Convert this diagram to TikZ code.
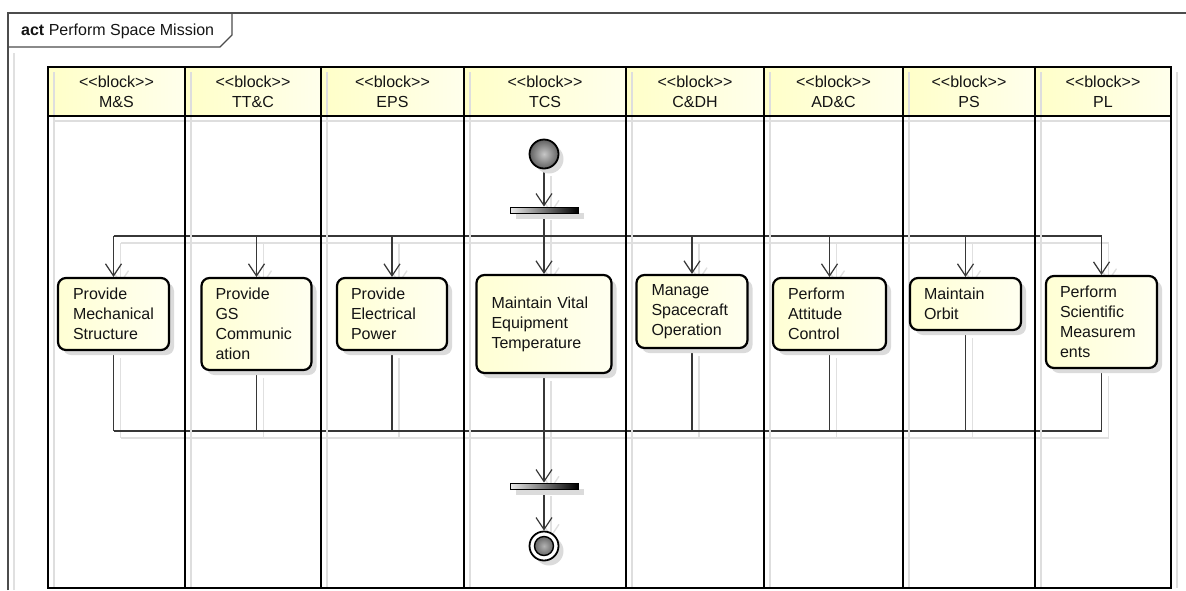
\documentclass[tikz,border=0pt]{standalone}
\usepackage{fontspec}
\newfontfamily\umlfont{Liberation Sans}
\usetikzlibrary{arrows.meta,shadows,calc}
\pgfdeclarelayer{flows}
\pgfsetlayers{flows,main}

\definecolor{hdrA}{RGB}{255,255,200}
\definecolor{hdrB}{RGB}{255,255,236}
\definecolor{actA}{RGB}{255,255,212}
\definecolor{actB}{RGB}{255,255,240}
\definecolor{inkgray}{RGB}{55,55,55}

\tikzset{
  every node/.style={font=\umlfont\fontsize{16}{20}\selectfont, text=black!92},
  lane/.style={line width=2.4pt, draw=black},
  laneshadow/.style={line width=1.6pt, draw=black!13},
  hdr/.style={draw=none, left color=hdrA, right color=hdrB, inner sep=0pt,
              minimum height=49, align=center},
  actbox/.style={draw=black, line width=2.2pt, rounded corners=8pt, align=left,
                 left color=actA, right color=actB, inner ysep=0pt,
                 drop shadow={shadow xshift=5pt, shadow yshift=-5pt, fill=black!14, opacity=1}},
  bar/.style={draw=black, line width=0.8pt, rectangle, inner sep=0pt,
              minimum width=68, minimum height=6, left color=black!8, right color=black,
              drop shadow={shadow xshift=6pt, shadow yshift=-6pt, fill=black!14, opacity=1}},
  initnode/.style={circle, draw=black, line width=1.8pt, inner sep=0pt, minimum size=29,
                   inner color=black!22, outer color=black!62,
                   drop shadow={shadow xshift=5pt, shadow yshift=-5pt, fill=black!14, opacity=1}},
  finalnode/.style={circle, draw=black, line width=1.8pt, inner sep=0pt, minimum size=29,
                    fill=white,
                    drop shadow={shadow xshift=5pt, shadow yshift=-5pt, fill=black!14, opacity=1},
                    path picture={\shadedraw[draw=black, line width=1.4pt,
                       inner color=black!30, outer color=black!75]
                       (path picture bounding box.center) circle (9.5pt);}},
  flow/.style={draw=inkgray, line width=1.2pt},
  flowshadow/.style={draw=black!12, line width=1.4pt},
  frameline/.style={draw=black!70, line width=1.2pt},
}

% every control-flow edge of the activity, drawn with the style given
\newcommand\flowlines[1]{%
  \draw[#1,->] (init) -- (fork);
  \draw[#1,->] (fork.south) -- (fork.south |- a4.north);
  \draw[#1] (spreadL) -- (spreadR);
  \foreach \n in {a1,a2,a3,a5,a6,a7,a8}
    \draw[#1,->] (\n.north |- spreadL) -- (\n.north);
  \foreach \n in {a1,a2,a3,a5,a6,a7,a8}
    \draw[#1] (\n.south) -- (\n.south |- joinL);
  \draw[#1] (joinL) -- (joinR);
  \draw[#1,->] (a4.south) -- (join);
  \draw[#1,->] (join) -- (final);
}

\begin{document}
\begin{tikzpicture}[x=1pt, y=-1pt, >={Straight Barb[length=12pt,width=16pt]}]
\useasboundingbox (0,0) rectangle (1186,590);

% diagram frame and its name tab
\draw[draw=black!12, line width=1.4pt] (14,53) -- (14,590);
\draw[frameline] (8,590) -- (8,13) -- (1186,13);
\draw[frameline] (8,47) -- (220,47) -- (232,35) -- (232,13);
\node[anchor=west, inner sep=0pt] (title) at (21,31) {\textbf{act} Perform Space Mission};

% partition headers
\node[hdr, minimum width=137] (h1) at (116.5,91.5)  {<<block>>\\M\&S};
\node[hdr, minimum width=136] (h2) at (253,91.5)    {<<block>>\\TT\&C};
\node[hdr, minimum width=143] (h3) at (392.5,91.5)  {<<block>>\\EPS};
\node[hdr, minimum width=162] (h4) at (545,91.5)    {<<block>>\\TCS};
\node[hdr, minimum width=138] (h5) at (695,91.5)    {<<block>>\\C\&DH};
\node[hdr, minimum width=139] (h6) at (833.5,91.5)  {<<block>>\\AD\&C};
\node[hdr, minimum width=132] (h7) at (969,91.5)    {<<block>>\\PS};
\node[hdr, minimum width=136] (h8) at (1103,91.5)   {<<block>>\\PL};

% partition shadows
\foreach \x in {48,185,321,464,626,764,903,1035,1171}
  \draw[laneshadow] (\x+6,72) -- (\x+6,588);
\draw[laneshadow] (54,121) -- (1171,121);

% partition lines
\draw[lane] (48,67) rectangle (1171,588);
\draw[lane] (48,116) -- (1171,116);
\foreach \x in {185,321,464,626,764,903,1035}
  \draw[lane] (\x,67) -- (\x,588);

% control nodes
\node[initnode] (init) at (544,154) {};
\node[bar] (fork) at (544,210) {};
\node[bar] (join) at (544,486) {};
\node[finalnode] (final) at (544,546) {};

% actions
\node[actbox, minimum width=111, minimum height=72, inner xsep=15, text width=81]
  (a1) at (113.5,314) {Provide\\Mechanical\\Structure};
\node[actbox, minimum width=110, minimum height=92, inner xsep=14, text width=82]
  (a2) at (256.5,324) {Provide\\GS\\Communic\\ation};
\node[actbox, minimum width=110, minimum height=72, inner xsep=14, text width=82]
  (a3) at (392,314) {Provide\\Electrical\\Power};
\node[actbox, minimum width=135, minimum height=98, inner xsep=15, text width=105]
  (a4) at (544,324) {Maintain Vital\\Equipment\\Temperature};
\node[actbox, minimum width=111, minimum height=73, inner xsep=15, text width=81]
  (a5) at (692,311.5) {Manage\\Spacecraft\\Operation};
\node[actbox, minimum width=113, minimum height=72, inner xsep=15, text width=83]
  (a6) at (829.5,314) {Perform\\Attitude\\Control};
\node[actbox, minimum width=111, minimum height=52, inner xsep=14, text width=83]
  (a7) at (965.5,304) {Maintain\\Orbit};
\node[actbox, minimum width=111, minimum height=92, inner xsep=14, text width=83]
  (a8) at (1101.5,322) {Perform\\Scientific\\Measurem\\ents};

% ends of the fork and join rails
\coordinate (spreadL) at (113.5,236);
\coordinate (spreadR) at (1101.5,236);
\coordinate (joinL) at (113.5,431);
\coordinate (joinR) at (1101.5,431);

% control flows, with their soft shadows beneath
\begin{pgfonlayer}{flows}
  \begin{scope}[transform canvas={shift={(7pt,-7pt)}}]
    \flowlines{flowshadow}
  \end{scope}
  \flowlines{flow}
\end{pgfonlayer}
\end{tikzpicture}
\end{document}
